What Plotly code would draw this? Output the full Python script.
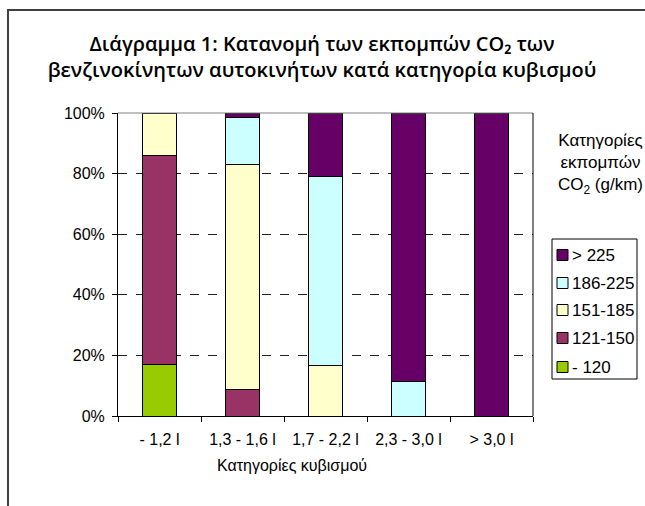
import plotly.graph_objects as go

categories = ["- 1,2 l", "1,3 - 1,6 l", "1,7 - 2,2 l", "2,3 - 3,0 l", "> 3,0 l"]
series_names = ["- 120", "121-150", "151-185", "186-225", "> 225"]
s_120 = [17.1, 0.0, 0.0, 0.0, 0.0]
s_121_150 = [68.9, 8.6, 0.0, 0.0, 0.0]
s_151_185 = [14.0, 74.5, 16.6, 0.0, 0.0]
s_186_225 = [0.0, 15.5, 62.5, 11.3, 0.0]
s_225 = [0.0, 1.4, 20.9, 88.7, 100.0]
colors = ["#99CC00", "#993366", "#FFFFCC", "#CCFFFF", "#660066"]

W, H = 645, 506
L, R, T, B = 118, 533, 113, 416

fig = go.Figure()
for name, vals, col in zip(series_names, [s_120, s_121_150, s_151_185, s_186_225, s_225], colors):
    fig.add_trace(go.Bar(x=categories, y=vals, name=name, showlegend=False,
                         marker=dict(color=col, line=dict(color="black", width=1))))

def px_x(px):
    return (px - L) / (R - L)

def px_y(py):
    return (B - py) / (B - T)

fig.update_layout(
    width=W, height=H,
    margin=dict(l=L, r=W - R, t=T, b=H - B, autoexpand=False),
    barmode="stack", bargap=0.6,
    paper_bgcolor="white", plot_bgcolor="white",
    font=dict(family="Liberation Sans, Arial", size=16, color="black"),
    title=dict(text="Διάγραμμα 1: Κατανομή των εκπομπών CO₂ των<br>βενζινοκίνητων αυτοκινήτων κατά κατηγορία κυβισμού",
               x=px_x(322), xref="paper", xanchor="center", y=1 - 51 / H, yanchor="middle",
               font=dict(family="Open Sans", size=20, color="black", weight=600)),
    xaxis=dict(range=[-0.5, 4.5], showline=True, linecolor="black", linewidth=1,
               ticks="outside", ticklen=5, tickcolor="black", tickson="boundaries",
               showgrid=False, ticklabelstandoff=9, tickfont=dict(size=16)),
    yaxis=dict(range=[0, 100], dtick=20, ticksuffix="%", showline=True, linecolor="black",
               linewidth=1, ticks="outside", ticklen=5, tickcolor="black",
               showgrid=True, gridcolor="#222222", griddash="dash", gridwidth=1,
               zeroline=False, ticklabelstandoff=4, tickfont=dict(size=16)),
    showlegend=False,
)

# plot-area top (grey) and right (dark) border lines
fig.add_shape(type="line", xref="paper", yref="paper", x0=0, x1=1, y0=1, y1=1,
              line=dict(color="#808080", width=1))
fig.add_shape(type="line", xref="paper", yref="paper", x0=1, x1=1, y0=0, y1=1,
              line=dict(color="black", width=1))
# outer chart frame (left and top edges visible)
fig.add_shape(type="line", xref="paper", yref="paper", x0=px_x(8), x1=px_x(8), y0=px_y(9), y1=px_y(520),
              line=dict(color="#404040", width=2))
fig.add_shape(type="line", xref="paper", yref="paper", x0=px_x(7), x1=px_x(660), y0=px_y(10), y1=px_y(10),
              line=dict(color="#404040", width=2))

# legend (top = last series)
leg_left, leg_right, leg_top, leg_bottom = 552, 637, 239, 379
fig.add_shape(type="rect", xref="paper", yref="paper",
              x0=px_x(leg_left), x1=px_x(leg_right), y0=px_y(leg_bottom), y1=px_y(leg_top),
              line=dict(color="black", width=1), fillcolor="white")
item_y = [255, 283, 310, 338, 367]
for i, (name, col) in enumerate(zip(series_names[::-1], colors[::-1])):
    yc = item_y[i]
    fig.add_shape(type="rect", xref="paper", yref="paper",
                  x0=px_x(557), x1=px_x(568), y0=px_y(yc + 5.5), y1=px_y(yc - 5.5),
                  line=dict(color="black", width=1), fillcolor=col)
    fig.add_annotation(text=name, xref="paper", yref="paper", x=px_x(570), y=px_y(yc),
                       xanchor="left", yanchor="middle", showarrow=False,
                       font=dict(size=17))

fig.add_annotation(text="Κατηγορίες κυβισμού", xref="paper", yref="paper",
                   x=px_x(292), y=px_y(465), xanchor="center", yanchor="middle",
                   showarrow=False, font=dict(size=16))
fig.add_annotation(text="Κατηγορίες<br>εκπομπών<br>CO<sub>2</sub> (g/km)", xref="paper", yref="paper",
                   x=px_x(600), y=px_y(164), xanchor="center", yanchor="middle",
                   showarrow=False, font=dict(size=17), align="center")

fig.write_html("out.html")
